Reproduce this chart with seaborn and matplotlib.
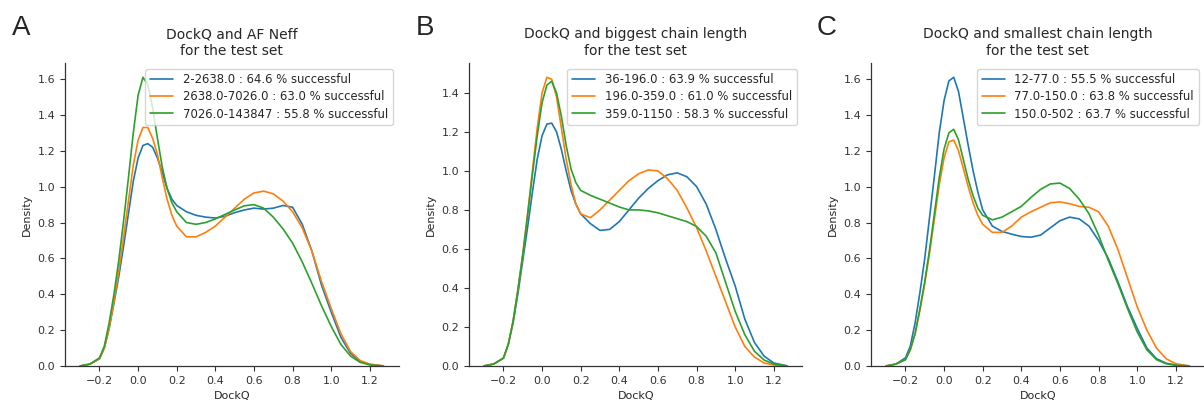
import pandas as pd
import matplotlib
matplotlib.use("Agg")
import matplotlib.pyplot as plt
import seaborn as sns

dockq = [-0.30, -0.25, -0.20, -0.175, -0.15, -0.125, -0.10, -0.075, -0.05, -0.025,
         0.0, 0.025, 0.05, 0.075, 0.10, 0.125, 0.15, 0.175, 0.20,
         0.25, 0.30, 0.35, 0.40, 0.45, 0.50, 0.55, 0.60, 0.65, 0.70, 0.75,
         0.80, 0.85, 0.90, 0.95, 1.00, 1.05, 1.10, 1.15, 1.20, 1.27]

# --- A: AF Neff ---
neff_labels = ["2-2638.0 : 64.6 % successful",
               "2638.0-7026.0 : 63.0 % successful",
               "7026.0-143847 : 55.8 % successful"]
neff_low = [0, 0.01, 0.04, 0.10, 0.21, 0.35, 0.50, 0.67, 0.85, 1.03,
            1.16, 1.23, 1.24, 1.22, 1.16, 1.08, 0.99, 0.93, 0.895,
            0.86, 0.84, 0.83, 0.825, 0.835, 0.855, 0.87, 0.88, 0.875, 0.88, 0.895,
            0.885, 0.79, 0.64, 0.45, 0.30, 0.16, 0.07, 0.025, 0.008, 0.0]
neff_mid = [0, 0.01, 0.04, 0.10, 0.21, 0.36, 0.53, 0.72, 0.92, 1.12,
            1.26, 1.33, 1.33, 1.27, 1.18, 1.05, 0.93, 0.84, 0.78,
            0.72, 0.72, 0.745, 0.78, 0.83, 0.88, 0.93, 0.965, 0.975, 0.96, 0.92,
            0.86, 0.77, 0.64, 0.47, 0.32, 0.18, 0.08, 0.03, 0.01, 0.0]
neff_high = [0, 0.01, 0.045, 0.11, 0.24, 0.40, 0.59, 0.81, 1.05, 1.30,
             1.51, 1.61, 1.57, 1.44, 1.27, 1.11, 0.99, 0.91, 0.86,
             0.80, 0.79, 0.80, 0.82, 0.845, 0.87, 0.893, 0.90, 0.88, 0.83, 0.765,
             0.685, 0.58, 0.46, 0.335, 0.22, 0.12, 0.055, 0.02, 0.006, 0.0]

# --- B: biggest chain length ---
big_labels = ["36-196.0 : 63.9 % successful",
              "196.0-359.0 : 61.0 % successful",
              "359.0-1150 : 58.3 % successful"]
big_low = [0, 0.01, 0.04, 0.11, 0.22, 0.37, 0.54, 0.71, 0.89, 1.06,
           1.18, 1.24, 1.245, 1.20, 1.11, 1.00, 0.90, 0.83, 0.78,
           0.73, 0.695, 0.70, 0.74, 0.80, 0.86, 0.91, 0.95, 0.98, 0.99, 0.97,
           0.92, 0.83, 0.70, 0.55, 0.41, 0.24, 0.12, 0.05, 0.015, 0.0]
big_mid = [0, 0.01, 0.04, 0.11, 0.23, 0.39, 0.57, 0.78, 1.00, 1.22,
           1.40, 1.48, 1.47, 1.38, 1.22, 1.06, 0.93, 0.83, 0.78,
           0.76, 0.80, 0.85, 0.90, 0.95, 0.985, 1.005, 1.00, 0.96, 0.90, 0.81,
           0.71, 0.59, 0.46, 0.33, 0.20, 0.10, 0.045, 0.015, 0.005, 0.0]
big_high = [0, 0.01, 0.04, 0.11, 0.23, 0.39, 0.57, 0.77, 0.98, 1.18,
            1.35, 1.44, 1.46, 1.40, 1.28, 1.13, 1.01, 0.94, 0.90,
            0.875, 0.855, 0.835, 0.815, 0.80, 0.80, 0.795, 0.785, 0.77, 0.755, 0.74,
            0.715, 0.665, 0.58, 0.43, 0.28, 0.16, 0.075, 0.03, 0.01, 0.0]

# --- C: smallest chain length ---
small_labels = ["12-77.0 : 55.5 % successful",
                "77.0-150.0 : 63.8 % successful",
                "150.0-502 : 63.7 % successful"]
small_low = [0, 0.01, 0.045, 0.11, 0.24, 0.41, 0.60, 0.83, 1.06, 1.30,
             1.48, 1.59, 1.61, 1.53, 1.38, 1.23, 1.09, 0.97, 0.87,
             0.78, 0.75, 0.735, 0.722, 0.718, 0.73, 0.77, 0.81, 0.83, 0.82, 0.78,
             0.70, 0.60, 0.47, 0.33, 0.21, 0.10, 0.04, 0.015, 0.005, 0.0]
small_mid = [0, 0.01, 0.035, 0.09, 0.18, 0.31, 0.46, 0.63, 0.82, 1.01,
             1.16, 1.25, 1.26, 1.20, 1.10, 1.00, 0.91, 0.84, 0.79,
             0.745, 0.745, 0.78, 0.83, 0.86, 0.885, 0.91, 0.915, 0.905, 0.89, 0.885,
             0.86, 0.78, 0.65, 0.49, 0.33, 0.20, 0.10, 0.04, 0.012, 0.0]
small_high = [0, 0.01, 0.035, 0.09, 0.18, 0.32, 0.47, 0.65, 0.85, 1.05,
              1.21, 1.30, 1.32, 1.26, 1.15, 1.04, 0.95, 0.88, 0.84,
              0.815, 0.83, 0.86, 0.89, 0.94, 0.985, 1.015, 1.02, 0.99, 0.93, 0.85,
              0.73, 0.59, 0.46, 0.32, 0.19, 0.09, 0.035, 0.012, 0.004, 0.0]

titles = ["DockQ and AF Neff\nfor the test set",
          "DockQ and biggest chain length\nfor the test set",
          "DockQ and smallest chain length\nfor the test set"]
letters = ["A", "B", "C"]

panels = [
    (neff_labels, [neff_low, neff_mid, neff_high]),
    (big_labels, [big_low, big_mid, big_high]),
    (small_labels, [small_low, small_mid, small_high]),
]

sns.set_style("ticks")
plt.rcParams["font.family"] = ["DejaVu Sans"]

fig = plt.figure(figsize=(12.04, 4.03), dpi=100)
lefts = [0.054, 0.3895, 0.7234]
letter_x = [0.010, 0.345, 0.678]

for i, (labels, curves) in enumerate(panels):
    ax = fig.add_axes([lefts[i], 0.092, 0.277, 0.752])
    frames = []
    for lab, vals in zip(labels, curves):
        frames.append(pd.DataFrame({"DockQ": dockq, "Density": vals, "group": lab}))
    df = pd.concat(frames, ignore_index=True)
    sns.lineplot(data=df, x="DockQ", y="Density", hue="group",
                 palette=["#1f77b4", "#ff7f0e", "#2ca02c"], linewidth=1.2, ax=ax)
    ax.set_ylim(bottom=0)
    ax.set_title(titles[i], fontsize=10)
    ax.set_xlabel("DockQ", fontsize=8)
    ax.set_ylabel("Density", fontsize=8)
    ax.tick_params(labelsize=8, width=0.8, length=3.5, colors="#333333")
    for s in ["left", "bottom"]:
        ax.spines[s].set_color("#333333")
        ax.spines[s].set_linewidth(0.9)
    ax.legend(loc="upper right", fontsize=8.4, frameon=True, labelspacing=0.35)
    sns.despine(ax=ax)
    fig.text(letter_x[i], 0.913, letters[i], fontsize=20, family=["Liberation Sans"])

fig.savefig("out.png", dpi=100)
